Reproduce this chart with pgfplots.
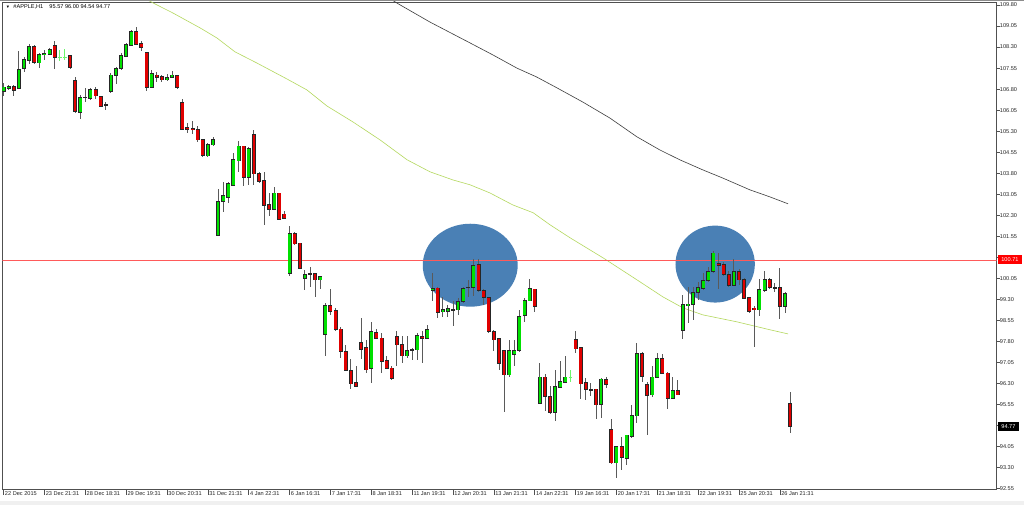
\documentclass[border=0pt]{standalone}
\usepackage{pgfplots}
\pgfplotsset{compat=1.18}
\usepackage{pgfplotstable}
\usepackage{fontspec}
\setmainfont{Liberation Sans}

\definecolor{bull}{HTML}{00E000}
\definecolor{bear}{HTML}{E00000}
\definecolor{wick}{HTML}{5A5A5A}
\definecolor{flat}{HTML}{6CF56C}
\definecolor{maslow}{HTML}{B4D85E}
\definecolor{malong}{HTML}{3C3C3C}
\definecolor{zone}{HTML}{4A80B5}
\definecolor{level}{HTML}{FF5A5A}
\definecolor{framec}{HTML}{505050}

\newcommand\mt{\fontsize{5.6}{6.5}\selectfont}

% hourly candles: bar index, open, high, low, close
\pgfplotstableread{
i o h l c
0 106.71 107.03 106.56 106.87
1 106.83 106.95 106.77 106.89
2 106.89 106.95 106.56 106.75
3 106.83 108.16 106.83 107.51
4 107.54 107.94 107.42 107.86
5 107.84 108.40 107.70 108.31
6 108.31 108.37 107.70 107.74
7 107.74 108.08 107.57 108.04
8 108.05 108.20 107.84 108.08
9 108.05 108.26 108.02 108.20
10 108.36 108.52 107.51 107.94
13 107.98 107.98 107.51 107.57
14 107.09 107.22 105.96 106.00
15 105.96 106.59 105.73 106.51
16 106.51 106.83 106.35 106.51
17 106.47 106.83 106.41 106.77
18 106.77 106.89 106.44 106.56
19 106.53 106.56 106.15 106.20
20 106.24 106.35 106.06 106.24
21 106.71 107.37 106.67 107.30
22 107.28 107.60 106.98 107.54
23 107.54 108.08 107.48 107.98
24 107.98 108.43 107.94 108.40
25 108.37 108.91 108.34 108.85
26 108.85 109.03 108.37 108.41
27 108.43 108.53 108.17 108.29
28 108.11 108.11 106.75 106.87
29 106.87 107.48 106.83 107.34
30 107.30 107.42 107.07 107.22
31 107.24 107.30 107.07 107.13
32 107.13 107.34 107.10 107.22
33 107.21 107.46 107.19 107.30
34 107.27 107.30 106.81 106.87
35 106.32 106.45 105.35 105.37
36 105.43 105.58 105.23 105.37
37 105.38 105.67 105.20 105.35
38 105.37 105.49 104.93 104.99
39 104.99 105.01 104.39 104.43
40 104.42 104.89 104.37 104.81
41 104.81 105.08 104.77 104.99
42 101.60 103.24 101.57 102.79
43 102.79 103.47 102.43 102.99
44 102.95 103.50 102.73 103.42
45 103.38 104.51 103.35 104.28
46 104.24 104.96 103.86 104.77
47 104.77 104.77 103.35 103.66
48 103.66 104.73 103.38 104.69
49 105.17 105.35 103.38 103.78
50 103.80 103.86 103.47 103.50
51 103.54 103.86 101.96 102.65
52 102.67 103.09 102.26 102.52
53 102.52 103.32 102.49 103.09
54 103.09 103.11 102.14 102.17
55 102.34 102.47 102.16 102.20
56 100.24 101.92 100.14 101.66
57 101.66 101.69 101.25 101.28
58 101.31 101.33 100.38 100.42
59 100.06 100.36 99.62 100.18
60 100.21 100.47 99.76 100.21
61 100.21 100.24 99.40 100.00
62 100.00 100.14 99.67 100.12
63 98.04 99.17 97.29 99.07
64 99.07 99.67 98.75 98.87
65 98.91 98.99 98.16 98.22
66 98.24 98.31 97.21 97.44
67 97.44 97.68 96.73 96.77
68 96.77 97.17 96.10 96.29
69 96.32 96.91 96.20 96.20
70 97.76 98.63 97.17 97.53
71 97.57 97.86 96.67 96.79
72 96.83 98.48 96.32 98.16
73 98.12 98.24 97.89 97.92
74 97.92 98.12 96.67 97.09
75 97.12 97.27 96.82 96.85
76 96.85 96.91 96.43 96.50
77 97.98 98.16 96.91 97.68
78 97.68 97.98 97.03 97.29
79 97.29 97.98 97.21 97.47
80 97.49 97.56 97.15 97.51
81 97.50 98.10 97.15 98.00
82 97.98 98.16 97.03 97.92
83 97.92 98.40 97.92 98.22
84 99.61 100.24 99.26 99.70
85 99.70 99.76 98.63 98.83
86 98.87 99.38 98.67 98.93
87 98.89 99.11 98.69 98.96
88 98.93 99.23 98.36 98.93
89 98.93 99.35 98.75 99.23
90 99.23 99.76 99.19 99.70
91 99.74 100.00 99.40 99.74
92 99.74 100.74 99.43 100.50
93 100.53 100.74 99.58 99.62
94 99.62 99.67 99.11 99.37
95 99.37 99.37 98.12 98.16
96 98.16 98.22 97.47 97.86
97 97.89 97.92 96.77 97.01
98 97.48 97.50 95.27 96.61
99 96.61 97.86 96.55 97.48
100 97.33 97.86 96.94 97.47
101 97.47 98.93 97.41 98.69
102 98.72 99.35 98.51 99.25
103 99.25 100.02 99.23 99.67
104 99.67 99.67 98.87 99.05
105 95.60 97.03 95.57 96.53
106 96.53 96.65 95.31 95.84
107 95.84 96.20 95.22 95.27
108 95.27 96.79 94.95 96.18
109 96.16 97.09 96.14 96.37
110 96.35 97.27 96.32 96.53
112 97.86 98.19 97.39 97.54
113 97.57 97.57 95.75 96.29
114 96.32 96.50 95.70 96.08
115 96.08 96.32 95.84 96.08
116 96.10 96.10 95.03 95.54
117 95.57 96.50 95.07 96.46
118 96.43 96.53 96.14 96.28
119 94.65 95.03 93.44 93.47
120 93.47 94.06 92.95 94.04
121 94.04 94.39 93.23 93.67
122 93.64 94.46 93.38 94.46
123 94.41 95.54 94.36 95.15
124 95.15 97.74 94.89 97.36
125 97.36 97.44 96.37 96.55
126 96.26 96.34 94.47 95.87
127 95.90 96.91 95.82 96.53
128 96.53 97.39 96.50 97.18
129 97.18 97.35 96.65 96.67
130 96.67 96.73 95.39 95.78
131 95.78 96.53 95.75 96.04
132 96.04 96.41 95.90 95.90
133 98.19 99.46 97.89 99.11
134 99.08 99.76 98.46 99.13
135 99.13 99.76 98.55 99.55
136 99.55 99.94 99.29 99.72
137 99.70 100.24 99.64 99.96
138 99.97 100.47 99.94 100.30
139 100.30 101.01 100.26 100.95
140 100.59 100.97 99.67 100.51
141 100.53 100.65 100.12 100.18
142 100.18 100.30 99.76 99.80
143 99.80 100.75 99.79 100.30
144 100.30 100.38 99.82 100.00
145 100.00 100.06 99.31 99.35
146 99.35 99.40 98.83 98.87
147 98.99 99.05 97.60 98.93
148 98.93 100.02 98.72 99.64
149 99.62 100.30 99.58 100.02
150 100.02 100.06 99.67 99.72
151 99.72 99.88 99.58 99.72
152 99.72 100.42 98.60 99.05
153 99.05 99.55 98.81 99.50
154 95.57 96.00 94.54 94.77
}\ohlc

% flat bars drawn without a body
\pgfplotstableread{
i o h l c
11 107.94 108.20 107.81 107.94
12 107.94 108.22 107.84 107.94
111 96.53 96.77 96.37 96.53
}\flatbars

\pgfplotsset{
  candle/.style={draw=none, mark=none, forget plot,
    error bars/y dir=both, error bars/y explicit, error bars/error mark=none},
}

\begin{document}
\begin{tikzpicture}[x=1pt,y=1pt]
\fill[white] (0,0) rectangle (1024,505);
\fill[black!6] (0,0) rectangle (1024,3.5);
\draw[black!45, line width=0.6pt] (0,504.6) -- (1024,504.6);

\begin{axis}[
  at={(2pt,15pt)}, anchor=south west,
  width=995pt, height=488pt, scale only axis,
  xmin=-0.254, xmax=194.46, ymin=92.514, ymax=109.907,
  clip mode=individual,
  axis line style={draw=framec, line width=0.7pt},
  tick align=outside, major tick length=3pt,
  tick style={draw=framec, line width=0.5pt},
  xtick pos=left, ytick pos=right,
  xtick={0,8,...,152},
  xticklabels={22 Dec 2015, 23 Dec 21:31, 28 Dec 18:31, 29 Dec 19:31, 30 Dec 20:31,
    31 Dec 21:31, 4 Jan 22:31, 6 Jan 16:31, 7 Jan 17:31, 8 Jan 18:31,
    11 Jan 19:31, 12 Jan 20:31, 13 Jan 21:31, 14 Jan 22:31, 19 Jan 16:31,
    20 Jan 17:31, 21 Jan 18:31, 22 Jan 19:31, 25 Jan 20:31, 26 Jan 21:31},
  xtick style={/pgfplots/major tick length=5pt},
  xticklabel style={font=\mt, anchor=north west, inner sep=0pt, xshift=1.2pt, text=black!85},
  xticklabel shift=-1pt,
  ytick={92.55,93.30,94.05,95.55,96.30,97.05,97.80,98.55,99.30,100.05,
    101.55,102.30,103.05,103.80,104.55,105.30,106.05,106.80,107.55,108.30,109.05,109.80},
  % scale steps that sit under the price tags
  extra y ticks={94.80,100.80}, extra y tick labels={},
  yticklabel pos=right,
  yticklabel style={font=\mt, anchor=west, inner sep=0pt, text=black!85,
    /pgf/number format/fixed, /pgf/number format/fixed zerofill,
    /pgf/number format/precision=2, /pgf/number format/assume math mode=true},
  yticklabel shift=0pt,
]

% marked zones
\fill[zone] (axis cs:91.37,100.52) ellipse [x radius=47.5pt, y radius=41.5pt];
\fill[zone] (axis cs:139.33,100.56) ellipse [x radius=39.7pt, y radius=38.5pt];

% moving averages
\addplot[maslow, line width=0.6pt, forget plot] coordinates {
(27.5,110.05) (29.3,109.87) (33.2,109.51) (38.5,108.98) (41.8,108.62) (45.3,108.13)
(49.6,107.73) (55.5,107.16) (59.4,106.77) (63.3,106.20) (68.4,105.63) (73.7,104.99)
(79.0,104.28) (83.5,103.85) (88.0,103.56) (91.3,103.39) (95.2,103.10) (99.7,102.67)
(103.7,102.39) (107.0,101.96) (110.9,101.50) (117.4,100.78) (124.0,100.00) (129.1,99.39)
(133.0,99.00) (136.9,98.75) (143.6,98.50) (150.0,98.22) (153.6,98.07)};
\addplot[malong, line width=0.6pt, forget plot] coordinates {
(75.5,110.05) (77.0,109.87) (83.5,109.19) (91.3,108.45) (95.8,108.02) (100.5,107.55)
(104.4,107.23) (108.4,106.84) (113.4,106.34) (118.7,105.77) (124.0,105.10) (128.5,104.63)
(132.4,104.28) (136.9,103.92) (140.8,103.63) (146.1,103.21) (150.0,102.96) (153.6,102.71)};

% horizontal level
\addplot[level, line width=0.7pt, forget plot] coordinates {(-1,100.71) (196,100.71)};

% wicks
\addplot[candle, error bars/error bar style={draw=wick, line width=0.9pt}]
  table[x=i, y expr={(\thisrow{h}+\thisrow{l})/2}, y error expr={(\thisrow{h}-\thisrow{l})/2}] \ohlc;
% body outlines
\addplot[candle, error bars/error bar style={draw=black!85, line width=4pt}]
  table[x=i, y expr={(\thisrow{o}+\thisrow{c})/2}, y error expr={abs(\thisrow{c}-\thisrow{o})/2+0.02}] \ohlc;
% rising bodies
\addplot[candle, restrict expr to domain={\thisrow{c}-\thisrow{o}}{0.001:50},
  error bars/error bar style={draw=bull, line width=2.6pt}]
  table[x=i, y expr={(\thisrow{o}+\thisrow{c})/2}, y error expr={max(abs(\thisrow{c}-\thisrow{o})/2-0.01,0)}] \ohlc;
% falling bodies
\addplot[candle, restrict expr to domain={\thisrow{o}-\thisrow{c}}{0.001:50},
  error bars/error bar style={draw=bear, line width=2.6pt}]
  table[x=i, y expr={(\thisrow{o}+\thisrow{c})/2}, y error expr={max(abs(\thisrow{c}-\thisrow{o})/2-0.01,0)}] \ohlc;

% flat bars
\addplot[candle, error bars/error bar style={draw=flat, line width=0.9pt}]
  table[x=i, y expr={(\thisrow{h}+\thisrow{l})/2}, y error expr={(\thisrow{h}-\thisrow{l})/2}] \flatbars;
\addplot[candle, error bars/error bar style={draw=flat, line width=3.6pt}]
  table[x=i, y=o, y error expr={0.018}] \flatbars;

% price tags on the scale
\node[fill=red, text=white, font=\mt, anchor=west, inner sep=0pt,
  minimum width=24pt, minimum height=9pt, xshift=1pt] at (axis cs:194.46,100.71) {100.71};
\node[fill=black, text=white, font=\mt, anchor=west, inner sep=0pt,
  minimum width=21pt, minimum height=8.5pt, xshift=1pt] at (axis cs:194.46,94.77) {94.77};
\end{axis}

% symbol line
\node[anchor=base west, inner sep=0pt, font=\fontsize{4.2}{5}\selectfont] at (5.5,496.3) {▼};
\node[anchor=base west, inner sep=0pt, font=\mt] at (13,496) {\#APPLE,H1};
\node[anchor=base west, inner sep=0pt, font=\mt] at (49,496) {95.57 96.00 94.54 94.77};
\end{tikzpicture}
\end{document}
